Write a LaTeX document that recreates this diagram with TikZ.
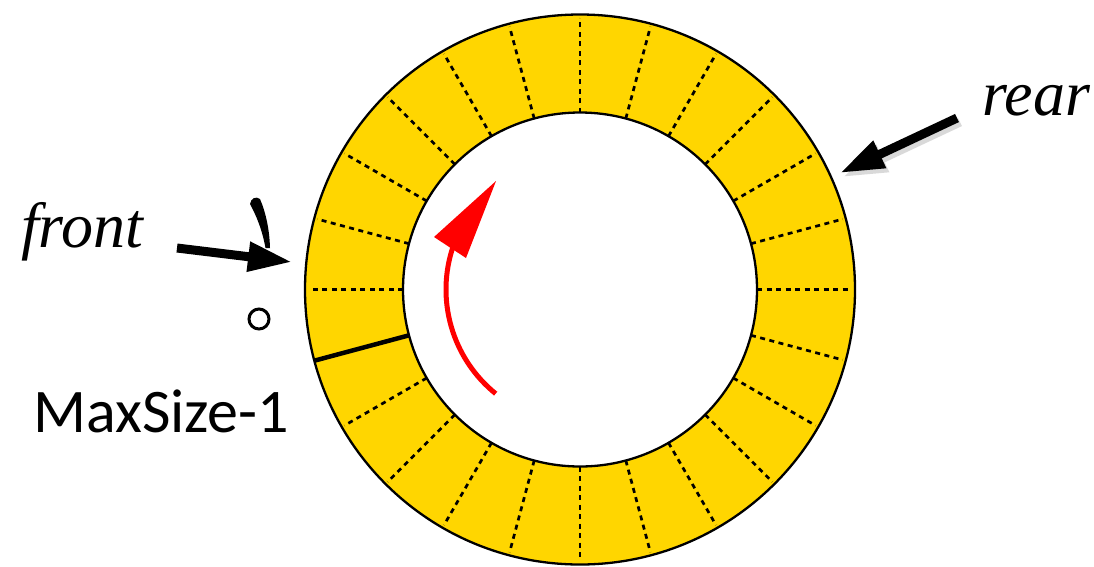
\documentclass[tikz,border=0pt]{standalone}
\usepackage{fontspec}
\setmainfont{Liberation Serif}
\newfontfamily\calfont{Carlito}
\usetikzlibrary{arrows.meta,calc}
\definecolor{ringgold}{RGB}{255,214,0}
\definecolor{arrowred}{RGB}{255,0,0}
\begin{document}
\begin{tikzpicture}[x=1pt,y=-1pt,
  ringline/.style={line width=2.3pt},
  divider/.style={line width=2.7pt, dash pattern=on 5pt off 4.5pt},
  boundary/.style={line width=4.5pt},
  tag/.style={inner sep=0pt, font=\fontsize{64}{64}\selectfont\itshape},
  ptr/.style={line width=9pt, -{Triangle[length=44pt,width=28pt]}},
  ptrshadow/.style={ptr, black!15}
]
\useasboundingbox (0,0) rectangle (1094,566);
\coordinate (c) at (580,289.5);
% ring fill
\fill[ringgold, even odd rule] (c) circle (275) (c) circle (177);
% cell dividers
\foreach \a in {0,15,...,345}{
  \ifnum\a=165\relax\else
    \draw[divider] ($(c)+(\a:177)$) -- ($(c)+(\a:272)$);
  \fi
}
\draw[boundary] ($(c)+(165:177)$) -- ($(c)+(165:275)$);
\draw[ringline] (c) circle (275);
\draw[ringline] (c) circle (177);
% red direction arrow
\draw[arrowred, line width=5pt] ($(c)+(129:134)$) arc[start angle=129, end angle=199, radius=134];
\fill[arrowred] (496,181) -- (434,237) -- (466,258) -- cycle;
% small marks
\draw[line width=3pt] (259,319) circle (10);
\fill (250,204) .. controls (256,215) and (262,229) .. (265.5,248)
  -- (270,248) .. controls (269.5,230) and (266,213) .. (260,199)
  .. controls (256,196) and (251,198) .. cycle;
% labels
\node[tag, anchor=base west] (front) at (21,247) {front};
\node[tag, anchor=base west] (rear) at (982,115) {rear};
\node[inner sep=0pt, anchor=base west, font=\calfont\fontsize{62}{62}\selectfont] (maxsize) at (33,432) {MaxSize-1};
% pointers
\coordinate (frontTail) at (177,248);
\coordinate (frontTip) at (292,262);
\coordinate (rearTail) at (957,118);
\coordinate (rearTip) at (840,173);
\coordinate (rearTailS) at (960,122);
\coordinate (rearTipS) at (843,177);
\draw[ptrshadow] (rearTailS) -- (rearTipS);
\draw[ptr] (frontTail) -- (frontTip);
\draw[ptr] (rearTail) -- (rearTip);
\end{tikzpicture}
\end{document}
